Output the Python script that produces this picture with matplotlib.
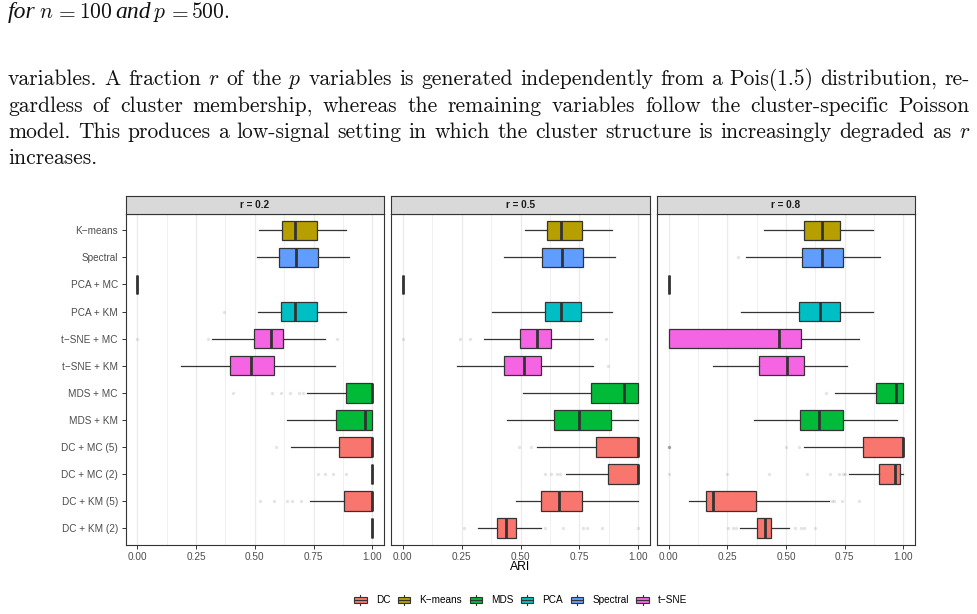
import matplotlib
matplotlib.use("Agg")
import matplotlib.pyplot as plt
import matplotlib.transforms as mtransforms
from matplotlib.patches import Rectangle, Patch
from matplotlib.lines import Line2D
from matplotlib.legend_handler import HandlerBase

# ---------------- data ----------------
methods = ["K\u2212means", "Spectral", "PCA + MC", "PCA + KM", "t\u2212SNE + MC", "t\u2212SNE + KM",
           "MDS + MC", "MDS + KM", "DC + MC (5)", "DC + MC (2)", "DC + KM (5)", "DC + KM (2)"]
method_group = ["K-means", "Spectral", "PCA", "PCA", "t-SNE", "t-SNE",
                "MDS", "MDS", "DC", "DC", "DC", "DC"]
panel_titles = ["r = 0.2", "r = 0.5", "r = 0.8"]
group_keys = ["DC", "K-means", "MDS", "PCA", "Spectral", "t-SNE"]
group_labels = ["DC", "K\u2212means", "MDS", "PCA", "Spectral", "t\u2212SNE"]
group_colors = ["#F8766D", "#B79F00", "#00BA38", "#00BFC4", "#619CFF", "#F564E3"]
x_ticks = [0.0, 0.25, 0.5, 0.75, 1.0]
x_ticklabels = ["0.00", "0.25", "0.50", "0.75", "1.00"]
x_label = "ARI"

# r = 0.2
r02_lo  = [0.518, 0.510, 0.0, 0.514, 0.318, 0.185, 0.722, 0.637, 0.653, 1.0, 0.733, 1.0]
r02_q1  = [0.617, 0.602, 0.0, 0.613, 0.497, 0.394, 0.887, 0.845, 0.857, 1.0, 0.880, 1.0]
r02_med = [0.672, 0.677, 0.0, 0.671, 0.569, 0.483, 1.0, 0.970, 1.0, 1.0, 1.0, 1.0]
r02_q3  = [0.764, 0.770, 0.0, 0.764, 0.620, 0.582, 1.0, 0.999, 1.0, 1.0, 1.0, 1.0]
r02_hi  = [0.888, 0.901, 0.0, 0.888, 0.799, 0.843, 1.0, 1.0, 1.0, 1.0, 1.0, 1.0]
r02_out = [[], [], [], [0.370], [0.0, 0.301, 0.849], [],
           [0.408, 0.573, 0.610, 0.648, 0.690, 0.704], [], [0.592],
           [0.768, 0.797, 0.835, 0.888], [0.522, 0.581, 0.638, 0.657, 0.695], []]

# r = 0.5
r05_lo  = [0.520, 0.430, 0.0, 0.380, 0.345, 0.230, 0.509, 0.441, 0.572, 0.695, 0.482, 0.318]
r05_q1  = [0.614, 0.592, 0.0, 0.602, 0.496, 0.428, 0.800, 0.643, 0.821, 0.870, 0.588, 0.400]
r05_med = [0.672, 0.677, 0.0, 0.672, 0.571, 0.514, 0.941, 0.749, 1.0, 1.0, 0.664, 0.438]
r05_q3  = [0.761, 0.767, 0.0, 0.759, 0.629, 0.585, 1.0, 0.886, 1.0, 1.0, 0.760, 0.482]
r05_hi  = [0.889, 0.903, 0.0, 0.889, 0.810, 0.810, 1.0, 0.997, 1.0, 1.0, 0.997, 0.586]
r05_out = [[], [], [], [], [0.0, 0.242, 0.287, 0.862], [0.872], [], [],
           [0.492, 0.545], [0.605, 0.629, 0.657, 0.669], [],
           [0.261, 0.603, 0.681, 0.767, 0.781, 0.845, 1.0]]

# r = 0.8
r08_lo  = [0.408, 0.330, 0.0, 0.309, 0.0, 0.188, 0.711, 0.364, 0.578, 0.767, 0.087, 0.303]
r08_q1  = [0.575, 0.568, 0.0, 0.557, 0.0, 0.386, 0.884, 0.560, 0.828, 0.897, 0.159, 0.375]
r08_med = [0.654, 0.653, 0.0, 0.645, 0.472, 0.504, 0.969, 0.640, 1.0, 0.965, 0.190, 0.411]
r08_q3  = [0.732, 0.743, 0.0, 0.732, 0.565, 0.577, 1.0, 0.743, 1.0, 0.985, 0.372, 0.436]
r08_hi  = [0.869, 0.901, 0.0, 0.869, 0.810, 0.760, 1.0, 0.975, 1.0, 0.997, 0.683, 0.513]
r08_out = [[], [0.296], [], [], [], [], [0.669], [],
           [0.0, 0.0, 0.0, 0.0, 0.502, 0.556],
           [0.0, 0.248, 0.429, 0.590, 0.688, 0.725, 0.743, 0.753],
           [0.694, 0.704, 0.739, 0.811],
           [0.254, 0.273, 0.288, 0.538, 0.562, 0.578, 0.623]]

panels = [
    (r02_lo, r02_q1, r02_med, r02_q3, r02_hi, r02_out),
    (r05_lo, r05_q1, r05_med, r05_q3, r05_hi, r05_out),
    (r08_lo, r08_q1, r08_med, r08_q3, r08_hi, r08_out),
]

# ---------------- figure ----------------
W, H = 977, 614
fig = plt.figure(figsize=(W / 100, H / 100), dpi=100)
fig.patch.set_facecolor("white")
plt.rcParams["mathtext.fontset"] = "cm"
plt.rcParams["axes.unicode_minus"] = False

SANS = ["Liberation Sans", "DejaVu Sans"]
SERIF = ["cmr10", "DejaVu Serif"]
GREY20 = "#333333"
GREY30 = "#4D4D4D"
FS_AX = 7.2

ident = mtransforms.IdentityTransform()
renderer = fig.canvas.get_renderer()

# ---------------- body text ----------------
FS_TXT = 15.5


def place_line(tokens, y_px, x0=8.0, x1=970.0, justify=True):
    arts = []
    for tok in tokens:
        t = fig.text(0, H - y_px, tok, fontsize=FS_TXT, family=SERIF,
                     va="baseline", ha="left", transform=ident, color="#111111")
        arts.append(t)
    widths = [a.get_window_extent(renderer).width for a in arts]
    if justify and len(arts) > 1:
        gap = (x1 - x0 - sum(widths)) / (len(arts) - 1)
    else:
        gap = FS_TXT * 100 / 72 * 0.333
    x = x0
    for a, w in zip(arts, widths):
        a.set_x(x)
        x += w + gap


# first (italic) line: pieces placed at their positions in the page
first_tokens = ["for", r"$n$", r"$=$", r"$100$", "and", r"$p$", r"$=$", r"$500.$"]
first_italic = [True, False, False, False, True, False, False, False]
first_x = [8, 39, 55, 79, 115, 153, 168, 191]
for tok, it, xp in zip(first_tokens, first_italic, first_x):
    if it:
        fig.text(xp, H - 18, tok, fontsize=17, family=["Liberation Serif", "DejaVu Serif"],
                 style="italic", va="baseline", ha="left", transform=ident, color="#111111")
    else:
        fig.text(xp, H - 18, tok, fontsize=FS_TXT, va="baseline", ha="left",
                 transform=ident, color="#111111")

line1 = "variables. A fraction $r$ of the $p$ variables is generated independently from a Pois(1.5) distribution, re-".split(" ")
line2 = "gardless of cluster membership, whereas the remaining variables follow the cluster-specific Poisson".split(" ")
line3 = "model. This produces a low-signal setting in which the cluster structure is increasingly degraded as $r$".split(" ")
line4 = ["increases."]
place_line(line1, 85)
place_line(line2, 111.5)
place_line(line3, 138)
place_line(line4, 164.5, justify=False)

# ---------------- panels ----------------
panel_px = [(125.5, 384.0), (391.0, 650.0), (657.0, 915.0)]
top_px, bot_px, strip_top = 214.0, 544.5, 196.0
positions = list(range(len(methods), 0, -1))
color_of = dict(zip(group_keys, group_colors))

for k, ((lpx, rpx), stats) in enumerate(zip(panel_px, panels)):
    lo, q1, med, q3, hi, out = stats
    ax = fig.add_axes([lpx / W, 1 - bot_px / H, (rpx - lpx) / W, (bot_px - top_px) / H])
    ax.set_facecolor("white")
    ax.set_xlim(-0.05, 1.05)
    ax.set_ylim(0.4, len(methods) + 0.6)
    ax.set_xticks(x_ticks)
    ax.set_xticks([0.125, 0.375, 0.625, 0.875], minor=True)
    ax.grid(True, axis="x", which="major", color="#EBEBEB", lw=0.9, zorder=0)
    ax.grid(True, axis="x", which="minor", color="#F0F0F0", lw=0.7, zorder=0)
    ax.grid(False, axis="y")
    ax.set_axisbelow(True)
    ax.set_xticklabels(x_ticklabels, fontsize=FS_AX, color=GREY30, family=SANS)
    ax.tick_params(axis="x", which="major", length=3, width=0.7, color=GREY20, pad=2.5)
    ax.tick_params(axis="x", which="minor", length=0)
    ax.set_yticks(positions)
    if k == 0:
        ax.set_yticklabels(methods, fontsize=FS_AX, color=GREY30, family=SANS)
        ax.tick_params(axis="y", length=3, width=0.7, color=GREY20, pad=2.5)
    else:
        ax.set_yticklabels([])
        ax.tick_params(axis="y", length=0)
    for s in ax.spines.values():
        s.set_color(GREY20)
        s.set_linewidth(0.8)

    bstats = []
    for i in range(len(methods)):
        bstats.append(dict(whislo=lo[i], q1=q1[i], med=med[i], q3=q3[i],
                           whishi=hi[i], fliers=out[i], label=methods[i]))
    res = ax.bxp(bstats, positions=positions, widths=0.72, orientation="horizontal",
                 patch_artist=True, showcaps=False, manage_ticks=False,
                 boxprops=dict(edgecolor=GREY20, linewidth=0.9),
                 medianprops=dict(color=GREY20, linewidth=2.0, solid_capstyle="butt"),
                 whiskerprops=dict(color=GREY20, linewidth=0.9),
                 flierprops=dict(marker="o", markersize=2.4, markerfacecolor="#333333",
                                 markeredgecolor="none", alpha=0.13))
    for patch, g in zip(res["boxes"], method_group):
        patch.set_facecolor(color_of[g])
        patch.set_zorder(2)
    for m in res["medians"]:
        m.set_zorder(3)

    # strip
    sax = fig.add_axes([lpx / W, 1 - top_px / H, (rpx - lpx) / W, (top_px - strip_top) / H])
    sax.set_facecolor("#D9D9D9")
    sax.set_xticks([])
    sax.set_yticks([])
    for s in sax.spines.values():
        s.set_color(GREY20)
        s.set_linewidth(0.8)
    sax.text(0.5, 0.5, panel_titles[k], transform=sax.transAxes, ha="center", va="center",
             fontsize=FS_AX, fontweight="bold", color="#1A1A1A", family=SANS)

fig.text(520 / W, 1 - 567 / H, x_label, ha="center", va="center", fontsize=8.8,
         color="#000000", family=SANS)


# ---------------- legend ----------------
class BoxKeyHandler(HandlerBase):
    def create_artists(self, legend, orig_handle, xdescent, ydescent, width, height,
                       fontsize, trans):
        fc = orig_handle.get_facecolor()
        x0, y0 = -xdescent, -ydescent
        box = Rectangle((x0 + 0.1 * width, y0 + 0.25 * height), 0.8 * width, 0.5 * height,
                        facecolor=fc, edgecolor=GREY20, lw=0.8, transform=trans)
        med = Line2D([x0 + 0.1 * width, x0 + 0.9 * width], [y0 + 0.5 * height] * 2,
                     color=GREY20, lw=0.8, transform=trans)
        w1 = Line2D([x0 + 0.5 * width] * 2, [y0 + 0.1 * height, y0 + 0.25 * height],
                    color=GREY20, lw=0.8, transform=trans)
        w2 = Line2D([x0 + 0.5 * width] * 2, [y0 + 0.75 * height, y0 + 0.9 * height],
                    color=GREY20, lw=0.8, transform=trans)
        return [w1, w2, box, med]


handles = [Patch(facecolor=c) for c in group_colors]
fig.legend(handles, group_labels, loc="center", bbox_to_anchor=(520 / W, 1 - 600 / H),
           ncol=6, frameon=False, handler_map={Patch: BoxKeyHandler()},
           handlelength=1.54, handleheight=1.7, handletextpad=0.77, columnspacing=0.6,
           prop=dict(family=SANS, size=FS_AX), borderpad=0, borderaxespad=0)

fig.savefig("out.png", dpi=100, facecolor="white")
